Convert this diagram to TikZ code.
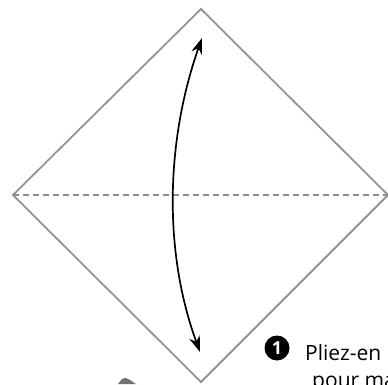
\documentclass[tikz,border=0pt]{standalone}
\usepackage{fontspec}
\setmainfont{Open Sans}
\usetikzlibrary{arrows.meta}
\begin{document}
\begin{tikzpicture}[x=1pt,y=1pt,
  paper/.style={draw=black!42,line width=1.8pt,line join=miter},
  crease/.style={draw=black!45,line width=1.5pt,dash pattern=on 6pt off 4pt},
  foldarrow/.style={draw=black,line width=1.7pt,{Stealth[length=16pt,width=11pt]}-{Stealth[length=16pt,width=11pt]}},
  stepnum/.style={circle,fill=black,text=white,inner sep=0pt,minimum size=25pt,font=\bfseries\fontsize{18}{18}\selectfont},
  caption/.style={anchor=base west,inner sep=0pt,font=\fontsize{21}{25}\selectfont}]
\useasboundingbox (0,0) rectangle (388,384);
\clip (0,0) rectangle (388,384);
\coordinate (T) at (201,375);
\coordinate (L) at (13,189);
\coordinate (R) at (388,189);
\coordinate (B) at (201,2);
\draw[paper] (T) -- (R) -- (B) -- (L) -- cycle;
\draw[crease] (L) -- (R);
\coordinate (A1) at (202,346);
\coordinate (A2) at (200,32);
\draw[foldarrow] (A1) .. controls (166,244) and (163,133) .. (A2);
\node[stepnum] (n1) at (277,36) {1};
\node[caption] (c1) at (305,24) {Pliez-en};
\node[caption] (c2) at (312,-3) {pour ma};
\fill[black!55] (118,0) -- (122,5) .. controls (125,6.5) and (128,6) .. (130,4) -- (136,0) -- cycle;
\end{tikzpicture}
\end{document}
